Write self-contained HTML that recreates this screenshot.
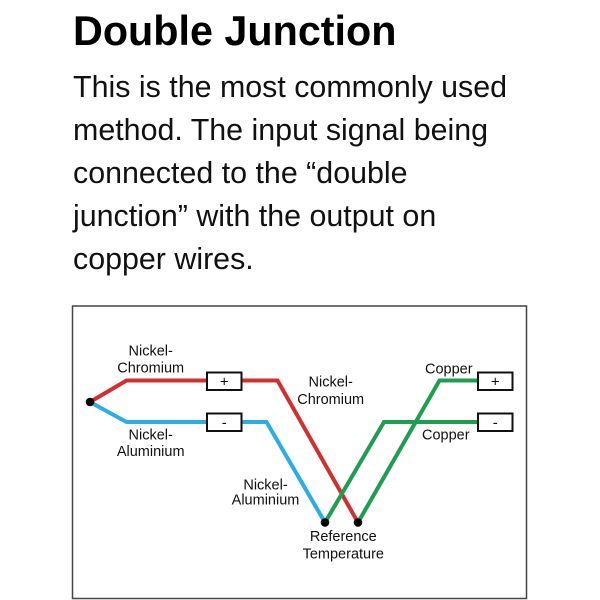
<!DOCTYPE html>
<html>
<head>
<meta charset="utf-8">
<style>
html,body{margin:0;padding:0;background:#fff;}
body{width:600px;height:600px;overflow:hidden;}
svg{display:block;}
</style>
</head>
<body>
<svg width="600" height="600" viewBox="0 0 600 600" xmlns="http://www.w3.org/2000/svg">
  <rect x="0" y="0" width="600" height="600" fill="#fff"/>
  <text x="73" y="45" font-family="Liberation Sans, sans-serif" font-weight="bold" font-size="41.3" fill="#000">Double Junction</text>
  <g font-family="Liberation Sans, sans-serif" font-size="30.4" fill="#111">
    <text x="73" y="97">This is the most commonly used</text>
    <text x="73" y="140">method. The input signal being</text>
    <text x="73" y="183">connected to the “double</text>
    <text x="73" y="226">junction” with the output on</text>
    <text x="73" y="269">copper wires.</text>
  </g>

  <rect x="72.5" y="306" width="454" height="292.5" fill="#fff" stroke="#444" stroke-width="1.5"/>

  <g fill="none" stroke-width="4" stroke-linejoin="miter">
    <polyline points="90,402 126.5,380.5 277.5,380.5 358,522.5" stroke="#d2302f"/>
    <polyline points="90,402 126.5,422 266.5,422 325,522.5" stroke="#2aaee3"/>
    <polyline points="358,522.5 439.5,380.5 478,380.5" stroke="#1e9e50"/>
    <polyline points="325,522.5 384,422 478,422" stroke="#1e9e50"/>
  </g>

  <g fill="#fff" stroke="#111" stroke-width="2">
    <rect x="207" y="372.5" width="34.5" height="17.5"/>
    <rect x="207" y="413.5" width="34.5" height="17.5"/>
    <rect x="478" y="372.5" width="34.5" height="17.5"/>
    <rect x="478" y="413.5" width="34.5" height="17.5"/>
  </g>

  <g fill="#000">
    <circle cx="90" cy="402" r="4.3"/>
    <circle cx="325" cy="522.5" r="4.3"/>
    <circle cx="358" cy="522.5" r="4.3"/>
  </g>

  <g font-family="Liberation Sans, sans-serif" font-size="15" fill="#111" text-anchor="middle">
    <text x="224.2" y="386.5">+</text>
    <text x="224.2" y="427.5">-</text>
    <text x="495.2" y="386.5">+</text>
    <text x="495.2" y="427.5">-</text>
  </g>

  <g font-family="Liberation Sans, sans-serif" font-size="14.5" fill="#111" text-anchor="middle">
    <text x="150.7" y="355.7">Nickel-</text>
    <text x="150.7" y="372.5">Chromium</text>
    <text x="150.7" y="439.3">Nickel-</text>
    <text x="150.7" y="456">Aluminium</text>
    <text x="330.7" y="386.7">Nickel-</text>
    <text x="330.7" y="404">Chromium</text>
    <text x="265.5" y="489.3">Nickel-</text>
    <text x="265.5" y="504.5">Aluminium</text>
    <text x="448.8" y="373.3">Copper</text>
    <text x="445.8" y="439.3">Copper</text>
    <text x="343.3" y="541">Reference</text>
    <text x="343.3" y="558.3">Temperature</text>
  </g>
</svg>
</body>
</html>
